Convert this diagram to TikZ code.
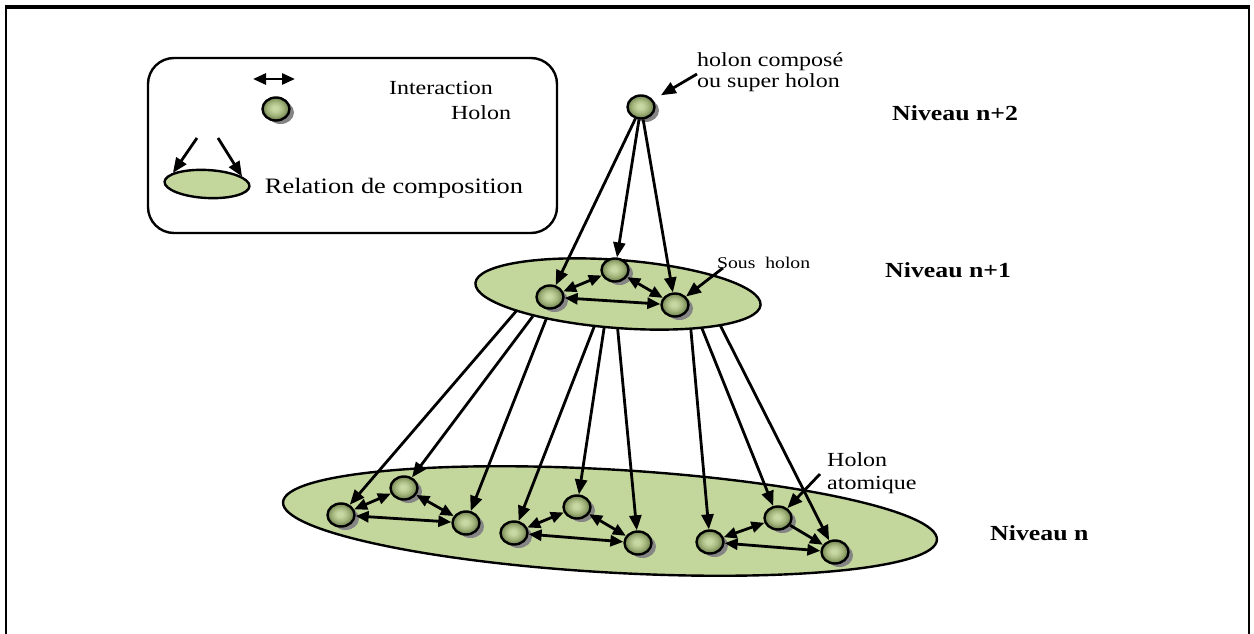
\documentclass[tikz,border=0pt]{standalone}
\usepackage{fontspec}
\setmainfont{Liberation Serif}[FakeStretch=1.2]
\usetikzlibrary{arrows.meta,shapes.geometric,shadows}

\definecolor{leaf}{RGB}{195,214,155}
\definecolor{ballhi}{RGB}{200,216,164}
\definecolor{ballmid}{RGB}{164,182,124}
\definecolor{balllo}{RGB}{110,128,78}
\pgfdeclareradialshading{holonball}{\pgfpoint{-2bp}{2bp}}{color(0bp)=(ballhi); color(5bp)=(ballhi); color(15bp)=(ballmid); color(25bp)=(balllo); color(50bp)=(balllo)}

\tikzset{
  holon/.style={ellipse, draw, line width=2.4pt, minimum width=27pt, minimum height=23pt,
    inner sep=0pt, shading=holonball,
    drop shadow={shadow xshift=4.5pt, shadow yshift=-3.5pt, fill=black!48, opacity=1}},
  layer/.style={ellipse, draw, line width=2.4pt, fill=leaf, inner sep=0pt},
  link/.style={line width=2.8pt, -{Triangle[length=15pt,width=12pt]}},
  duo/.style={line width=2.8pt, {Triangle[length=13pt,width=11pt]}-{Triangle[length=13pt,width=11pt]}},
  oneway/.style={line width=2.8pt, -{Triangle[length=13pt,width=11pt]}},
  lbl/.style={inner sep=0pt, font=\fontsize{20}{23}\selectfont},
  lvl/.style={inner sep=0pt, anchor=west, font=\bfseries\fontsize{21.5}{25}\selectfont},
}

\begin{document}
\begin{tikzpicture}[x=1pt,y=-1pt]
\useasboundingbox (0,0) rectangle (1254,634);

% open frame
\draw[line width=2.5pt] (6,634) -- (6,7);
\draw[line width=2.5pt] (1249,7) -- (1249,634);
\draw[line width=4.5pt] (5,7) -- (1250,7);

% legend
\node[draw, line width=2.4pt, rounded corners=26pt, minimum width=409pt, minimum height=175pt] (legend) at (352.5,145.5) {};
\coordinate (ia) at (253,79);
\coordinate (ib) at (295,79);
\draw[duo] (ia) -- (ib);
\node[holon] (lh) at (276,109) {};
\node[layer, minimum width=85pt, minimum height=28pt, rotate=-3] (le) at (207,184) {};
\coordinate (lc1) at (197,138);
\coordinate (lc2) at (218,138);
\draw[link] (lc1) -- (le.165);
\draw[link] (lc2) -- (le.15);
\node[lbl] at (441,88) {Interaction};
\node[lbl] at (481,113) {Holon};
\node[lbl, font=\fontsize{22}{26}\selectfont] at (394,188) {Relation de composition};

% level n
\node[layer, minimum width=655pt, minimum height=103pt, rotate=-3.3] (base) at (610,521) {};
\node[holon] (a1) at (341,515) {};
\node[holon] (a2) at (404,488) {};
\node[holon] (a3) at (466,523) {};
\node[holon] (b1) at (514,533) {};
\node[holon] (b2) at (577,507) {};
\node[holon] (b3) at (638,543) {};
\node[holon] (c1) at (710,542) {};
\node[holon] (c2) at (778,518) {};
\node[holon] (c3) at (835,552) {};

% composition links from level n+1 down to level n
\coordinate (s1) at (518,309);
\coordinate (s2) at (533,316);
\coordinate (s3) at (547,317);
\coordinate (s4) at (596,322);
\coordinate (s5) at (605,322);
\coordinate (s6) at (617,322);
\coordinate (s7) at (690,320);
\coordinate (s8) at (697,316);
\coordinate (s9) at (715,315);
\draw[link] (s1) -- (a1);
\draw[link] (s2) -- (a2);
\draw[link] (s3) -- (a3);
\draw[link] (s4) -- (b1);
\draw[link] (s5) -- (b2);
\draw[link] (s6) -- (b3);
\draw[link] (s7) -- (c1);
\draw[link] (s8) -- (c2);
\draw[link] (s9) -- (c3);

% level n+1
\node[layer, minimum width=286pt, minimum height=68pt, rotate=-4.4] (mid) at (618,294) {};
\node[holon] (m1) at (550,297) {};
\node[holon] (m2) at (615,270) {};
\node[holon] (m3) at (675,305) {};

% level n+2
\node[holon] (sup) at (641,107) {};
\draw[link] (sup) -- (m1);
\draw[link] (sup) -- (m2);
\draw[link] (sup) -- (m3);

% interactions
\draw[duo] (m1) -- (m2);
\draw[duo] (m2) -- (m3);
\draw[duo] (m1) -- (m3);
\draw[duo] (a1) -- (a2);
\draw[duo] (a2) -- (a3);
\draw[duo] (a1) -- (a3);
\draw[duo] (b1) -- (b2);
\draw[duo] (b2) -- (b3);
\draw[duo] (b1) -- (b3);
\draw[duo] (c1) -- (c2);
\draw[oneway] (c2) -- (c3);
\draw[duo] (c1) -- (c3);

% annotations
\node[lbl, anchor=west, align=left, font=\fontsize{20}{21}\selectfont] (tsup) at (697,72) {holon composé\\ou super holon};
\coordinate (q1) at (697,74);
\draw[link, shorten >=9pt] (q1) -- (sup);
\node[lbl, anchor=west, font=\fontsize{16.4}{19}\selectfont] (tsous) at (717,263) {Sous\ \ holon};
\coordinate (q2) at (723,268);
\draw[link] (q2) -- (m3);
\node[lbl, anchor=west, align=left, font=\fontsize{20}{23}\selectfont] (tatom) at (827,473) {Holon\\atomique};
\coordinate (q3) at (820,474);
\draw[link] (q3) -- (c2);

% level labels
\node[lvl] at (892,113) {Niveau n+2};
\node[lvl] at (885,270) {Niveau n+1};
\node[lvl] at (990,533) {Niveau n};
\end{tikzpicture}
\end{document}
